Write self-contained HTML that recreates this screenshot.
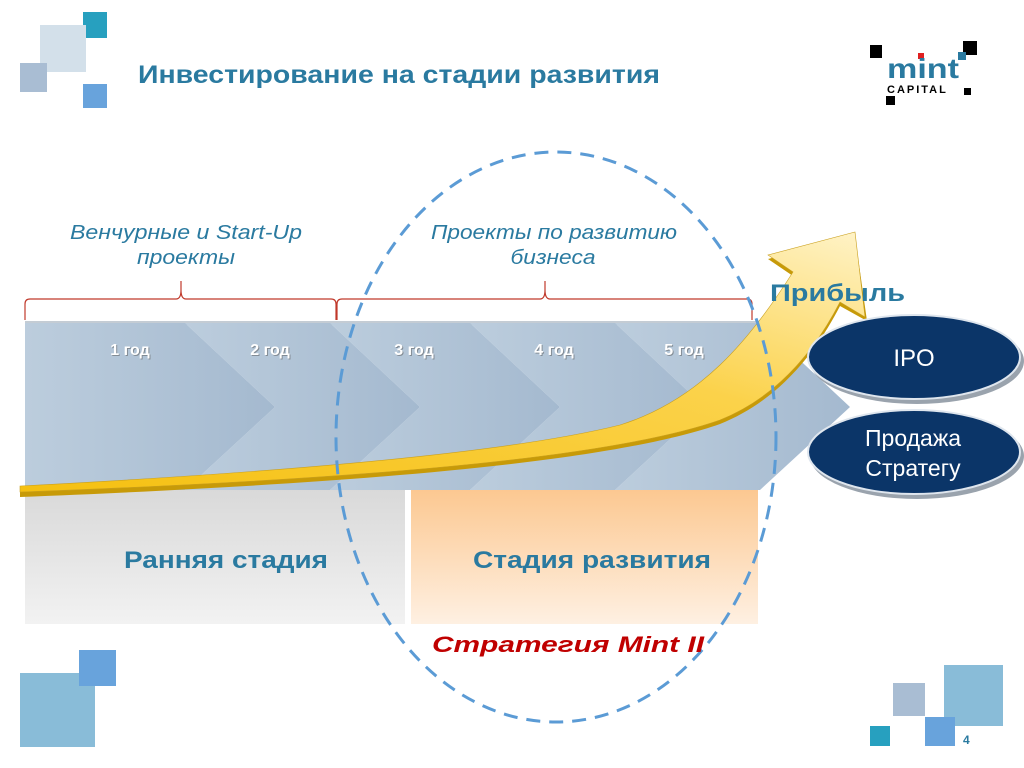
<!DOCTYPE html>
<html><head><meta charset="utf-8"><style>
html,body{margin:0;padding:0;background:#fff;}
body{width:1024px;height:768px;overflow:hidden;position:relative;font-family:"Liberation Sans",sans-serif;}
</style></head><body>
<svg width="1024" height="768" viewBox="0 0 1024 768" xmlns="http://www.w3.org/2000/svg" style="position:absolute;left:0;top:0">
<defs>
<linearGradient id="chev" x1="0" y1="0" x2="1" y2="0">
<stop offset="0" stop-color="#bccddd"/><stop offset="1" stop-color="#a4b9cf"/></linearGradient>
<linearGradient id="gray" x1="0" y1="0" x2="0" y2="1">
<stop offset="0" stop-color="#d9d9d9"/><stop offset="1" stop-color="#f2f2f2"/></linearGradient>
<linearGradient id="orng" x1="0" y1="0" x2="0" y2="1">
<stop offset="0" stop-color="#fcc891"/><stop offset="1" stop-color="#fef0e2"/></linearGradient>
<linearGradient id="arw" x1="0" y1="1" x2="1" y2="0">
<stop offset="0" stop-color="#f5c010"/><stop offset="0.6" stop-color="#fbd24a"/><stop offset="1" stop-color="#fff3c8"/></linearGradient>
</defs>
<rect x="83" y="12" width="24" height="26" fill="#27a0bf"/>
<rect x="40" y="25" width="46" height="47" fill="#d3e0ea"/>
<rect x="20" y="63" width="27" height="29" fill="#a9bdd3"/>
<rect x="83" y="84" width="24" height="24" fill="#68a3dc"/>
<rect x="20" y="673" width="75" height="74" fill="#89bcd8"/>
<rect x="79" y="650" width="37" height="36" fill="#68a3dc"/>
<rect x="944" y="665" width="59" height="61" fill="#89bcd8"/>
<rect x="893" y="683" width="32" height="33" fill="#a9bdd3"/>
<rect x="925" y="717" width="30" height="29" fill="#68a3dc"/>
<rect x="870" y="726" width="20" height="20" fill="#27a0bf"/>
<text x="963" y="744" font-size="12" font-weight="bold" fill="#2a7aa0">4</text>
<text x="138" y="83" font-size="25" font-weight="bold" fill="#2a7aa0" textLength="522" lengthAdjust="spacingAndGlyphs">Инвестирование на стадии развития</text>
<rect x="870" y="45" width="12" height="13" fill="#000"/>
<rect x="963" y="41" width="14" height="14" fill="#000"/>
<rect x="958" y="52" width="8" height="8" fill="#2a7aa0"/>
<rect x="918" y="53" width="6" height="6" fill="#e02020"/>
<text x="887" y="78" font-size="28" font-weight="bold" fill="#2a7aa0" textLength="72" lengthAdjust="spacingAndGlyphs">mint</text>
<text x="887" y="93" font-size="11" font-weight="bold" fill="#000" letter-spacing="2">CAPITAL</text>
<rect x="964" y="88" width="7" height="7" fill="#000"/>
<rect x="886" y="96" width="9" height="9" fill="#000"/>
<rect x="25" y="490" width="380" height="134" fill="url(#gray)"/>
<rect x="411" y="490" width="347" height="134" fill="url(#orng)"/>
<text x="124" y="568" font-size="24" font-weight="bold" fill="#2a7aa0" textLength="204" lengthAdjust="spacingAndGlyphs">Ранняя стадия</text>
<text x="473" y="568" font-size="24" font-weight="bold" fill="#2a7aa0" textLength="238" lengthAdjust="spacingAndGlyphs">Стадия развития</text>
<rect x="25" y="321" width="735" height="4" fill="#c4ccd4"/>
<polygon points="615,323 760,323 850,407 760,490 615,490 705,407" fill="url(#chev)"/>
<polygon points="470,323 615,323 705,407 615,490 470,490 560,407" fill="url(#chev)"/>
<polygon points="330,323 470,323 560,407 470,490 330,490 420,407" fill="url(#chev)"/>
<polygon points="185,323 330,323 420,407 330,490 185,490 275,407" fill="url(#chev)"/>
<polygon points="25,323 185,323 275,407 185,490 25,490" fill="url(#chev)"/>
<g font-size="16" font-weight="bold" fill="#fff" text-anchor="middle">
<text x="131" y="356" fill="#555" opacity=".5">1 год</text>
<text x="130" y="355">1 год</text>
<text x="271" y="356" fill="#555" opacity=".5">2 год</text>
<text x="270" y="355">2 год</text>
<text x="415" y="356" fill="#555" opacity=".5">3 год</text>
<text x="414" y="355">3 год</text>
<text x="555" y="356" fill="#555" opacity=".5">4 год</text>
<text x="554" y="355">4 год</text>
<text x="685" y="356" fill="#555" opacity=".5">5 год</text>
<text x="684" y="355">5 год</text>
</g>
<path d="M20,490 C250,478 500,459 620,429 C700,404 750,344 793,276 L768,259 L855,236 L867,321 L840,306 C810,364 770,404 720,424 C620,459 400,482 20,497 Z" fill="#c79a08"/>
<path d="M20,486 C250,474 500,455 620,425 C700,400 750,340 793,272 L768,255 L855,232 L865,317 L840,302 C810,360 770,400 720,420 C620,455 400,478 20,492 Z" fill="url(#arw)" stroke="#c9a020" stroke-width="0.6"/>
<path d="M25,320 V304 Q25,299 30,299 H176 Q181,299 181,290 V281 M181,290 Q181,299 186,299 H331 Q336,299 336,304 V320" fill="none" stroke="#c0392b" stroke-width="1.2"/>
<path d="M337,320 V304 Q337,299 342,299 H540 Q545,299 545,290 V281 M545,290 Q545,299 550,299 H747 Q752,299 752,304 V320" fill="none" stroke="#c0392b" stroke-width="1.2"/>
<g font-size="20" font-style="italic" fill="#2a7aa0" text-anchor="middle">
<text x="186" y="239" textLength="232" lengthAdjust="spacingAndGlyphs">Венчурные и  Start-Up</text>
<text x="186" y="264" textLength="98" lengthAdjust="spacingAndGlyphs">проекты</text>
<text x="554" y="239" textLength="246" lengthAdjust="spacingAndGlyphs">Проекты по развитию</text>
<text x="553" y="264" textLength="85" lengthAdjust="spacingAndGlyphs">бизнеса</text>
</g>
<ellipse cx="556" cy="437" rx="220" ry="285" fill="none" stroke="#5b9bd5" stroke-width="3" stroke-dasharray="14,9"/>
<text x="432" y="652" font-size="22" font-weight="bold" font-style="italic" fill="#c00000" textLength="272" lengthAdjust="spacingAndGlyphs">Стратегия Mint II</text>
<text x="770" y="301" font-size="24" font-weight="bold" fill="#2a7aa0" textLength="135" lengthAdjust="spacingAndGlyphs">Прибыль</text>
<ellipse cx="917" cy="361" rx="107" ry="43" fill="#9aa3ad"/>
<ellipse cx="914" cy="357" rx="106" ry="42" fill="#0b3568" stroke="#dfe6ee" stroke-width="2"/>
<text x="914" y="366" font-size="24" fill="#fff" text-anchor="middle">IPO</text>
<ellipse cx="917" cy="456" rx="107" ry="43" fill="#9aa3ad"/>
<ellipse cx="914" cy="452" rx="106" ry="42" fill="#0b3568" stroke="#dfe6ee" stroke-width="2"/>
<text x="913" y="446" font-size="23" fill="#fff" text-anchor="middle">Продажа</text>
<text x="913" y="476" font-size="23" fill="#fff" text-anchor="middle">Стратегу</text>
</svg>
</body></html>
